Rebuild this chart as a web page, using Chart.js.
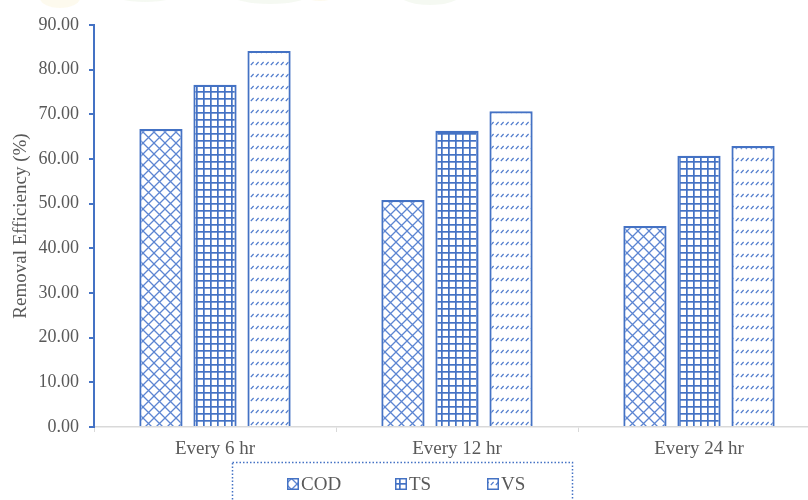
<!DOCTYPE html>
<html>
<head>
<meta charset="utf-8">
<script src="https://cdn.jsdelivr.net/npm/chart.js@4.4.1/dist/chart.umd.min.js"></script>
<style>
  html, body { margin: 0; padding: 0; background: #fff; overflow: hidden; }
  #wrap { width: 808px; height: 500px; overflow: hidden; position: relative; }
  canvas { display: block; }
</style>
</head>
<body>
<div id="wrap"><canvas id="chart" width="822" height="500"></canvas></div>
<script>
// Removal efficiency per feeding interval
const categories = ['Every 6 hr', 'Every 12 hr', 'Every 24 hr'];
const seriesNames = ['COD', 'TS', 'VS'];
const codValues = [66.7, 50.8, 45.0];
const tsValues = [76.6, 66.3, 60.7];
const vsValues = [84.2, 70.7, 62.9];
const yAxisTitle = 'Removal Efficiency (%)';

const BLUE = '#4472C4';
const SERIF = '"Liberation Serif", "Times New Roman", serif';
const TEXT = '#595959';

// Hatch fills for the three series
function makePattern(kind) {
  const c = document.createElement('canvas');
  const g = c.getContext('2d');
  if (kind === 'cross') {
    c.width = 11; c.height = 11;
    g.fillStyle = '#fff'; g.fillRect(0, 0, 11, 11);
    g.strokeStyle = '#5c85d2'; g.lineWidth = 1.3;
    g.beginPath();
    g.moveTo(0, 0); g.lineTo(11, 11);
    g.moveTo(11, 0); g.lineTo(0, 11);
    g.stroke();
  } else if (kind === 'grid') {
    c.width = 7; c.height = 7;
    g.fillStyle = '#fff'; g.fillRect(0, 0, 7, 7);
    g.fillStyle = BLUE;
    g.fillRect(0, 0, 7, 1.7);
    g.fillRect(0, 0, 1.7, 7);
  } else {
    c.width = 5; c.height = 12;
    g.fillStyle = '#fff'; g.fillRect(0, 0, 5, 12);
    g.strokeStyle = '#4f7bcc'; g.lineWidth = 1.1;
    g.beginPath();
    g.moveTo(0.8, 5); g.lineTo(3.6, 2);
    g.stroke();
  }
  return g.createPattern(c, 'repeat');
}

const fills = [makePattern('cross'), makePattern('grid'), makePattern('slash')];

// Faint decorative band along the top edge
const topBand = {
  id: 'topBand',
  beforeDraw(chart) {
    const ctx = chart.ctx;
    ctx.save();
    ctx.globalAlpha = 0.09;
    const shapes = [
      ['#e8c640', 40, 40, -2], ['#8fbf6a', 110, 70, -8], ['#8fbf6a', 230, 80, -6],
      ['#e8c640', 300, 40, -9], ['#8fbf6a', 400, 60, -5]
    ];
    shapes.forEach(([col, x, w, y]) => {
      ctx.fillStyle = col;
      ctx.beginPath();
      ctx.ellipse(x + w / 2, y, w / 2, 10, 0, 0, Math.PI * 2);
      ctx.fill();
    });
    ctx.restore();
  }
};

// Legend drawn inside a dotted frame below the axis labels
const framedLegend = {
  id: 'framedLegend',
  afterDraw(chart) {
    const ctx = chart.ctx;
    ctx.save();
    ctx.strokeStyle = BLUE;
    ctx.lineWidth = 1.5;
    ctx.setLineDash([1.5, 2]);
    ctx.strokeRect(232.5, 462.5, 340, 60);
    ctx.setLineDash([]);
    const xs = [287, 395, 487];
    ctx.font = '19px ' + SERIF;
    ctx.textBaseline = 'middle';
    chart.data.datasets.forEach((ds, i) => {
      const x = xs[i], y = 478;
      ctx.fillStyle = ds.backgroundColor;
      ctx.fillRect(x, y, 12, 12);
      ctx.strokeStyle = BLUE;
      ctx.lineWidth = 1.5;
      ctx.strokeRect(x + 0.75, y + 0.75, 10.5, 10.5);
      ctx.fillStyle = TEXT;
      ctx.fillText(ds.label, x + 14, y + 7);
    });
    ctx.restore();
  }
};

const values = [codValues, tsValues, vsValues];

new Chart(document.getElementById('chart'), {
  type: 'bar',
  data: {
    labels: categories,
    datasets: seriesNames.map((name, i) => ({
      label: name,
      data: values[i],
      backgroundColor: fills[i],
      borderColor: BLUE,
      borderWidth: 2.2,
      barPercentage: 0.8,
      categoryPercentage: 0.67
    }))
  },
  options: {
    responsive: false,
    animation: false,
    layout: { padding: { top: 25, left: 0, right: 2, bottom: 35 } },
    plugins: {
      legend: { display: false },
      tooltip: { enabled: false }
    },
    scales: {
      x: {
        afterFit(s) { s.height = 38; },
        border: { color: '#d9d9d9', width: 1.5 },
        grid: { offset: true, drawOnChartArea: false, drawTicks: true, tickLength: 5, color: '#d9d9d9' },
        ticks: { color: TEXT, font: { family: SERIF, size: 19 }, padding: 6 }
      },
      y: {
        min: 0, max: 90,
        afterFit(s) { s.width = 94; },
        border: { color: BLUE, width: 2 },
        grid: { drawOnChartArea: false, drawTicks: true, tickLength: 5, color: BLUE, lineWidth: 2 },
        ticks: {
          stepSize: 10,
          color: TEXT,
          padding: 10,
          font: { family: SERIF, size: 18 },
          callback: v => v.toFixed(2)
        },
        title: {
          display: true,
          text: yAxisTitle,
          color: TEXT,
          font: { family: SERIF, size: 19 },
          padding: { top: 10, bottom: 0 }
        }
      }
    }
  },
  plugins: [topBand, framedLegend]
});
</script>
</body>
</html>
